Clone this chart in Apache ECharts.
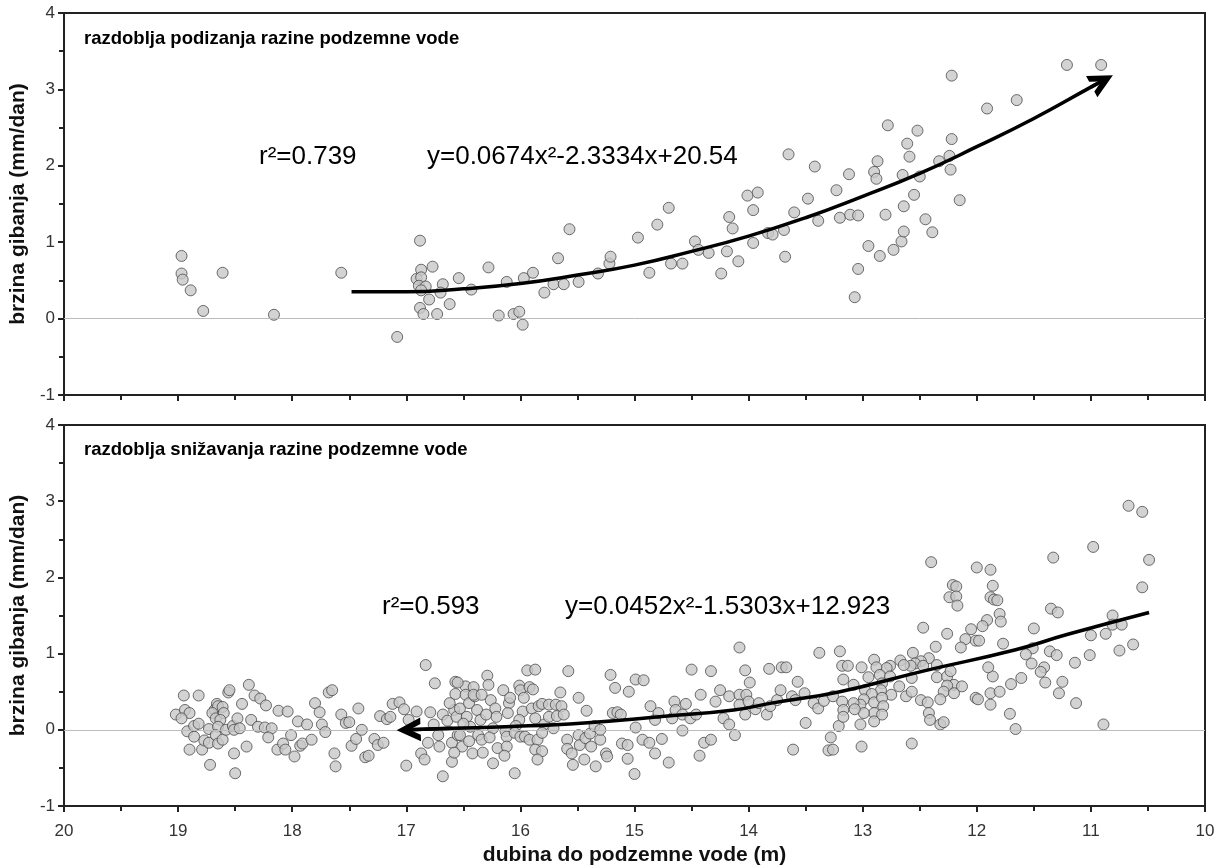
<!DOCTYPE html>
<html>
<head>
<meta charset="utf-8">
<script src="https://cdn.jsdelivr.net/npm/echarts@6/dist/echarts.min.js"></script>
<style>html,body{margin:0;padding:0;background:#fff}#c{width:1223px;height:868px}</style>
</head>
<body>
<div id="c"></div>
<script>
// ---- DATA ----
const xTicks = [20, 19, 18, 17, 16, 15, 14, 13, 12, 11, 10];
const yTicks = [-1, 0, 1, 2, 3, 4];
const panelTitles = ['razdoblja podizanja razine podzemne vode', 'razdoblja snižavanja razine podzemne vode'];
const fitLabelsTop = ['r\u00B2=0.739', 'y=0.0674x\u00B2-2.3334x+20.54'];
const fitLabelsBottom = ['r\u00B2=0.593', 'y=0.0452x\u00B2-1.5303x+12.923'];
const xTitle = 'dubina do podzemne vode (m)';
const yTitle = 'brzina gibanja (mm/dan)';

// rising groundwater periods: [depth (m), velocity (mm/day)]
const risingPoints = [
[18.97,0.82],[18.97,0.59],[18.96,0.51],[18.89,0.37],[18.78,0.10],[18.61,0.60],[18.16,0.05],[17.57,0.60],[17.08,-0.24],[16.88,1.02],
[16.87,0.64],[16.91,0.52],[16.87,0.54],[16.89,0.43],[16.83,0.42],[16.87,0.37],[16.77,0.68],[16.80,0.25],[16.88,0.14],[16.85,0.06],
[16.73,0.06],[16.68,0.45],[16.70,0.34],[16.62,0.19],[16.54,0.53],[16.43,0.38],[16.28,0.67],[16.19,0.04],[16.12,0.48],[16.06,0.06],
[16.01,0.09],[15.98,-0.08],[15.97,0.53],[15.89,0.60],[15.79,0.34],[15.71,0.45],[15.67,0.79],[15.62,0.45],[15.57,1.17],[15.49,0.48],
[15.32,0.59],[15.22,0.72],[15.21,0.81],[14.97,1.06],[14.87,0.60],[14.80,1.23],[14.70,1.45],[14.68,0.72],[14.58,0.72],[14.47,1.01],
[14.44,0.90],[14.35,0.86],[14.24,0.59],[14.19,0.88],[14.17,1.33],[14.14,1.18],[14.09,0.75],[14.01,1.61],[13.96,1.42],[13.92,1.65],
[13.96,0.99],[13.83,1.12],[13.79,1.10],[13.69,1.16],[13.68,0.81],[13.65,2.15],[13.60,1.39],[13.48,1.57],[13.42,1.99],[13.39,1.28],
[13.23,1.68],[13.12,1.89],[13.20,1.32],[13.11,1.36],[13.04,1.35],[13.04,0.65],[13.07,0.28],[12.95,0.95],[12.85,0.82],[12.87,2.06],
[12.90,1.92],[12.88,1.83],[12.80,1.36],[12.78,2.53],[12.73,0.90],[12.66,1.01],[12.64,1.14],[12.64,1.47],[12.65,1.88],[12.61,2.29],
[12.59,2.12],[12.55,1.62],[12.50,1.86],[12.52,2.46],[12.45,1.30],[12.39,1.13],[12.33,2.06],[12.24,2.13],[12.23,1.95],[12.22,2.35],
[12.22,3.18],[12.15,1.55],[11.91,2.75],[11.65,2.86],[11.21,3.32],[10.91,3.32]
];

// falling groundwater periods: [depth (m), velocity (mm/day)]
const fallingPoints = [
[19.02,0.20],[18.95,0.45],[18.82,0.45],[18.94,0.26],[18.90,0.22],[18.97,0.15],[18.92,-0.02],[18.86,0.05],[18.82,0.08],[18.86,-0.09],
[18.90,-0.26],[18.79,-0.26],[18.77,-0.14],[18.73,-0.17],[18.72,-0.46],[18.73,0.01],[18.68,0.26],[18.66,0.34],[18.65,0.31],[18.70,0.22],
[18.67,0.15],[18.61,0.30],[18.60,0.22],[18.63,0.13],[18.65,0.04],[18.67,-0.07],[18.65,-0.18],[18.61,-0.13],[18.58,0.00],[18.56,0.49],
[18.55,0.52],[18.52,0.05],[18.51,0.00],[18.48,0.15],[18.46,0.02],[18.51,-0.31],[18.50,-0.57],[18.44,0.34],[18.40,-0.22],[18.38,0.59],
[18.33,0.45],[18.28,0.41],[18.23,0.32],[18.36,0.13],[18.30,0.04],[18.24,0.03],[18.18,0.02],[18.21,-0.10],[18.12,0.25],[18.04,0.24],
[18.13,-0.26],[18.08,-0.18],[18.06,-0.26],[18.01,-0.07],[17.98,-0.35],[17.95,0.11],[17.93,-0.21],[17.91,-0.18],[17.87,0.07],[17.83,-0.13],
[17.80,0.35],[17.76,0.23],[17.74,0.07],[17.71,-0.03],[17.68,0.49],[17.65,0.52],[17.63,-0.31],[17.62,-0.48],
[17.57,0.20],[17.53,0.09],[17.50,0.10],[17.48,-0.21],[17.44,-0.12],[17.42,0.28],[17.39,0.00],[17.36,-0.36],[17.33,-0.34],[17.28,-0.12],
[17.25,-0.20],[17.20,-0.17],[17.23,0.18],[17.17,0.14],[17.14,0.17],[17.12,0.34],[17.06,0.36],[17.02,0.27],[17.00,-0.47],[16.98,0.13],[16.91,0.24],
[16.83,0.85],[16.79,0.23],[16.75,0.61],[16.87,-0.31],[16.84,-0.39],[16.81,-0.17],[16.76,0.07],[16.72,-0.07],[16.71,-0.22],[16.68,-0.61],
[16.68,0.20],[16.64,0.12],[16.60,-0.42],[16.60,-0.17],[16.57,0.63],[16.57,0.47],[16.58,0.26],[16.56,0.17],[16.55,-0.07],[16.53,0.28],
[16.53,-0.07],[16.51,-0.22],[16.48,0.57],[16.48,0.46],[16.47,0.17],[16.45,0.35],[16.44,0.04],[16.42,-0.31],[16.41,0.56],[16.40,0.44],
[16.38,0.26],[16.37,-0.07],[16.35,0.13],[16.34,-0.13],[16.29,0.71],[16.28,0.59],[16.26,0.39],[16.24,-0.44],[16.24,0.02],[16.22,0.28],
[16.21,0.17],[16.20,-0.24],[16.15,0.52],[16.55,0.62],[16.41,0.46],[16.34,0.46],[16.62,0.35],[16.50,0.08],[16.30,0.20],[16.27,-0.10],
[16.45,-0.15],[16.33,-0.30],[16.58,-0.30],
[16.10,0.35],[16.09,0.42],[16.11,0.22],[16.13,-0.02],[16.12,-0.09],[16.12,-0.22],[16.14,-0.34],[16.05,-0.57],[16.01,0.58],[16.00,0.52],
[15.97,0.42],[15.98,0.24],[16.01,0.13],[16.04,0.05],[16.05,-0.04],[16.00,-0.09],[15.96,-0.09],[15.94,0.78],[15.87,0.79],[15.92,0.56],
[15.89,0.53],[15.90,0.28],[15.87,0.15],[15.92,-0.13],[15.85,-0.13],[15.87,-0.26],[15.81,-0.28],[15.85,-0.39],[15.84,0.31],[15.81,0.34],
[15.79,0.07],[15.81,-0.04],[15.75,0.33],[15.75,0.17],[15.71,0.02],[15.69,0.33],[15.68,0.18],[15.65,0.49],[15.64,0.31],[15.62,0.20],
[15.58,0.77],[15.59,-0.13],[15.59,-0.25],[15.55,-0.31],[15.54,-0.46],[15.49,0.42],[15.49,-0.07],[15.48,-0.20],[15.42,0.25],[15.43,-0.11],
[15.44,-0.39],[15.39,-0.05],[15.38,-0.22],[15.34,-0.48],[15.35,0.05],[15.30,-0.13],[15.30,0.00],[15.25,-0.31],[15.24,-0.35],[15.21,0.72],
[15.17,0.55],[15.19,0.22],[15.15,0.23],[15.12,0.20],[15.11,-0.18],[15.06,-0.20],[15.06,-0.38],[15.05,0.50],[14.99,0.66],[14.92,0.65],
[14.99,0.03],[15.00,-0.58],[14.93,-0.13],[14.87,-0.17],[14.86,0.31],[14.82,0.13],[14.82,-0.31],[14.79,0.22],[14.76,-0.12],[14.70,-0.43],
[14.67,0.15],[14.65,0.37],
[14.55,0.34],[14.64,0.26],[14.58,0.20],[14.51,0.15],[14.46,0.20],[14.58,-0.01],[14.50,0.79],[14.42,0.46],[14.43,-0.34],[14.39,-0.17],
[14.33,-0.13],[14.33,0.77],[14.29,0.37],[14.25,0.52],[14.22,0.15],[14.17,0.07],[14.12,-0.07],[14.17,0.44],[14.08,0.46],[14.08,1.08],
[14.08,0.33],[14.03,0.78],[14.03,0.20],[14.02,0.46],[13.99,0.62],[14.00,0.37],[13.94,0.27],[13.91,0.35],[13.84,0.20],[13.82,0.80],
[13.81,0.31],[13.75,0.39],[13.72,0.52],[13.71,0.82],[13.67,0.82],[13.61,-0.26],[13.62,0.44],[13.59,0.39],[13.57,0.63],[13.51,0.48],
[13.50,0.09],[13.43,0.35],[13.39,0.28],[13.38,1.01],[13.34,0.38],[13.30,-0.27],[13.26,-0.26],[13.28,-0.10],[13.26,0.44],[13.21,0.05],
[13.20,1.03],[13.18,0.84],[13.17,0.66],[13.18,0.37],[13.17,0.26],[13.17,0.17],
[12.40,2.20],[12.00,2.13],[11.88,2.10],[12.21,1.90],[12.18,1.88],[12.24,1.74],[12.18,1.75],[12.17,1.63],[11.86,1.89],[11.88,1.74],
[11.85,1.71],[11.82,1.70],[11.80,1.52],[11.79,1.42],[11.91,1.44],[11.95,1.36],[12.05,1.32],[12.01,1.17],[11.98,1.17],[12.10,1.19],
[12.14,1.08],[11.77,1.13],[12.47,1.34],[12.26,1.26],[12.36,1.09],[12.56,1.01],[12.42,0.94],[12.49,0.90],[12.54,0.87],[12.35,0.85],
[12.47,0.84],[12.58,0.84],[12.67,0.91],[12.64,0.85],[12.90,0.92],[12.76,0.84],[12.79,0.81],[12.88,0.82],[13.01,0.82],[13.13,0.84],
[12.95,0.69],[12.85,0.72],[12.76,0.70],[13.08,0.59],[12.98,0.52],[12.83,0.61],[12.68,0.57],[12.57,0.68],[12.35,0.69],[12.26,0.70],
[12.23,0.77],[12.20,0.59],[12.13,0.57],[12.26,0.58],[12.29,0.50],[12.32,0.40],[12.20,0.48],[12.62,0.44],[12.57,0.50],[12.49,0.39],
[12.43,0.36],[12.42,0.22],[12.41,0.13],[12.32,0.07],[12.29,0.10],[12.75,0.46],[12.84,0.52],[12.92,0.47],[12.99,0.40],[12.90,0.36],
[12.83,0.42],[12.82,0.31],[12.90,0.22],[12.83,0.20],[12.90,0.11],[13.02,0.33],[12.99,0.22],[13.02,0.07],[13.08,0.35],[13.07,0.27],
[13.01,-0.22],[12.57,-0.18],[12.01,0.42],[11.99,0.40],[11.88,0.33],[11.88,0.48],[11.80,0.50],[11.86,0.70],[11.90,0.82],[11.70,0.60],
[11.71,0.21],[11.66,0.01],
[10.67,2.94],[10.55,2.86],[10.49,2.23],[10.55,1.87],[10.98,2.40],[11.33,2.26],[11.35,1.59],[11.29,1.54],[11.50,1.33],[10.81,1.50],
[10.81,1.38],[10.73,1.38],[10.87,1.26],[11.00,1.24],[10.63,1.12],[10.75,1.04],[11.01,0.98],[11.14,0.88],[11.36,1.03],[11.30,0.98],
[11.51,1.07],[11.57,0.99],[11.52,0.87],[11.41,0.82],[11.44,0.76],[11.61,0.68],[11.40,0.62],[11.25,0.63],[11.28,0.48],[11.13,0.35],
[10.89,0.07]
];

// trend curves as drawn; last point = arrow tip
const risingTrend = [[17.48,0.35],[17.0,0.35],[16.5,0.39],[16.0,0.46],[15.5,0.57],[15.0,0.70],[14.5,0.88],[14.0,1.08],[13.5,1.32],[13.0,1.60],[12.5,1.90],[12.0,2.25],[11.5,2.62],[11.0,3.03],[10.9,3.11]];
const fallingTrend = [[10.49,1.54],[11.21,1.25],[11.66,1.05],[12.47,0.77],[13.2,0.50],[13.8,0.35],[14.13,0.26],[14.71,0.18],[15.44,0.09],[16.13,0.04],[16.6,0.02],[16.98,0.0]];

// ---- CHART ----
const FONT = "'Liberation Sans', Arial, sans-serif";
const chart = echarts.init(document.getElementById('c'), null, {renderer: 'canvas'});
const chevron = 'path://M0,14 L7,0 L14,14 L10.2,14 L7,7.6 L3.8,14 Z';

function xAxisCfg(grid, showLabels) {
  return {
    type: 'value', gridIndex: grid, min: xTicks[xTicks.length - 1], max: xTicks[0], interval: 1, inverse: true,
    axisLine: {show: true, onZero: false, lineStyle: {color: '#222', width: 2}},
    axisTick: {show: true, inside: false, length: 6, lineStyle: {color: '#222', width: 2}},
    minorTick: {show: true, splitNumber: 2, length: 5, lineStyle: {color: '#222', width: 2}},
    splitLine: {show: false},
    axisLabel: {show: showLabels, fontFamily: FONT, fontSize: 17, color: '#333', margin: 17},
    name: showLabels ? xTitle : '', nameLocation: 'middle', nameGap: 39,
    nameTextStyle: {fontFamily: FONT, fontSize: 21, fontWeight: 'bold', color: '#111'}
  };
}
function yAxisCfg(grid) {
  return {
    type: 'value', gridIndex: grid, min: yTicks[0], max: yTicks[yTicks.length - 1], interval: 1,
    axisLine: {show: true, onZero: false, lineStyle: {color: '#222', width: 2}},
    axisTick: {show: true, inside: false, length: 6, lineStyle: {color: '#222', width: 2}},
    minorTick: {show: true, splitNumber: 2, length: 5, lineStyle: {color: '#222', width: 2}},
    splitLine: {show: false},
    axisLabel: {fontFamily: FONT, fontSize: 17, color: '#333', margin: 9},
    name: yTitle, nameLocation: 'middle', nameGap: 31,
    nameTextStyle: {fontFamily: FONT, fontSize: 21, fontWeight: 'bold', color: '#111'}
  };
}
function scatterCfg(i, data) {
  return {
    type: 'scatter', xAxisIndex: i, yAxisIndex: i, data: data, symbolSize: 11,
    itemStyle: {color: '#c8c8c8', borderColor: '#4a4a4a', borderWidth: 1},
    z: 3, silent: true,
    markLine: {silent: true, symbol: 'none', label: {show: false},
      lineStyle: {color: '#bbb', width: 1, type: 'solid'}, data: [{yAxis: 0}]}
  };
}
function trendCfg(i, data) {
  return {type: 'line', xAxisIndex: i, yAxisIndex: i, data: data, smooth: true, showSymbol: false,
    lineStyle: {color: '#000', width: 3.5}, z: 5, silent: true};
}
function arrowCfg(i, data) {
  const n = data.length;
  return {type: 'lines', coordinateSystem: 'cartesian2d', xAxisIndex: i, yAxisIndex: i, z: 6, silent: true,
    symbol: ['none', chevron], symbolSize: 24,
    lineStyle: {color: '#000', width: 3.5, opacity: 1},
    data: [{coords: [data[n - 2], data[n - 1]]}]};
}
function txt(x, y, s, size, bold) {
  return {type: 'text', x: x, y: y, silent: true,
    style: {text: s, font: (bold ? 'bold ' : '') + size + 'px ' + FONT, fill: '#000', verticalAlign: 'middle', textAlign: 'left'}};
}

chart.setOption({
  animation: false,
  backgroundColor: '#fff',
  grid: [
    {left: 63, top: 13, width: 1142, height: 382, show: true, borderColor: '#222', borderWidth: 2, backgroundColor: 'transparent'},
    {left: 63, top: 425, width: 1142, height: 381, show: true, borderColor: '#222', borderWidth: 2, backgroundColor: 'transparent'}
  ],
  xAxis: [xAxisCfg(0, false), xAxisCfg(1, true)],
  yAxis: [yAxisCfg(0), yAxisCfg(1)],
  series: [
    scatterCfg(0, risingPoints), trendCfg(0, risingTrend), arrowCfg(0, risingTrend),
    scatterCfg(1, fallingPoints), trendCfg(1, fallingTrend), arrowCfg(1, fallingTrend)
  ],
  graphic: [
    txt(84, 39, panelTitles[0], 18.5, true),
    txt(259, 157, fitLabelsTop[0], 26, false),
    txt(427, 157, fitLabelsTop[1], 26, false),
    txt(84, 450, panelTitles[1], 18.5, true),
    txt(382, 607, fitLabelsBottom[0], 26, false),
    txt(565, 607, fitLabelsBottom[1], 26, false)
  ]
});
</script>
</body>
</html>
